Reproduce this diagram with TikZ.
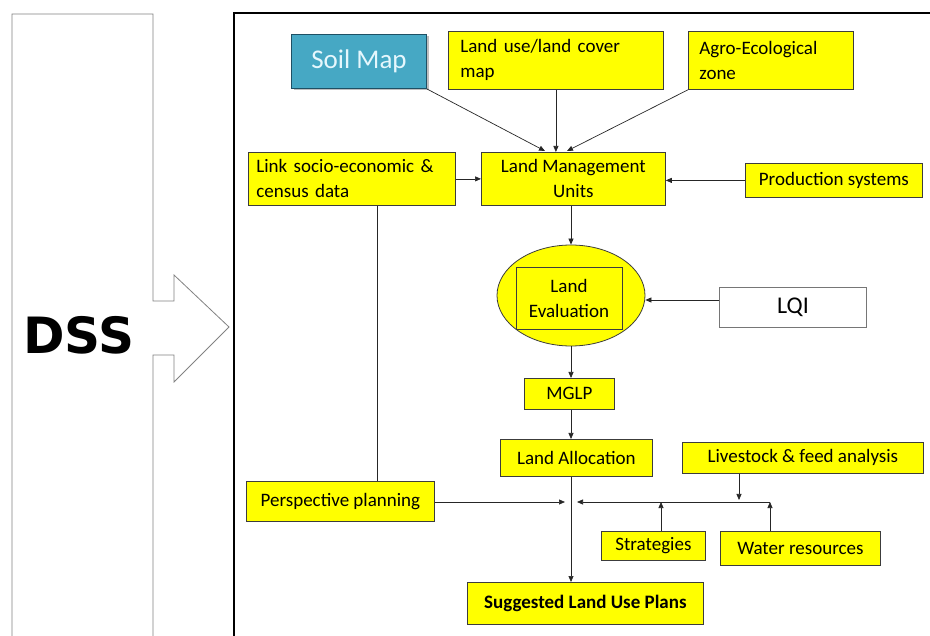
\documentclass[tikz,border=0pt]{standalone}
\usepackage{fontspec}
\setmainfont{Carlito}
\newfontfamily\dssfont{DejaVu Sans}
\usetikzlibrary{arrows.meta,shapes.geometric,shadows,calc}
\definecolor{yel}{RGB}{255,255,0}
\definecolor{boxline}{RGB}{60,60,60}
\definecolor{soilfill}{RGB}{70,168,196}
\definecolor{soiledge}{RGB}{30,80,100}
\definecolor{panelgray}{RGB}{130,130,130}
\newcommand\boxfont{\fontsize{19}{25}\selectfont}
\tikzset{
  ybox/.style={draw=boxline, fill=yel, line width=0.8pt, font=\boxfont, inner sep=0pt, anchor=north west},
  arr/.style={draw=black!85, line width=0.7pt, -{Triangle[length=6pt,width=5pt]}},
  conn/.style={draw=black!85, line width=0.7pt},
}
\begin{document}
\begin{tikzpicture}[x=1pt,y=-1pt]
\useasboundingbox (0,0) rectangle (930,636);
\fill[white] (0,0) rectangle (930,636);
% left DSS panel with arrow
\draw[panelgray, line width=0.8pt, fill=white]
  (12,640) -- (12,14) -- (153,14) -- (153,301) -- (174,301) -- (174,275)
  -- (229,327) -- (174,382) -- (174,355) -- (153,355) -- (153,640);
\node[font=\dssfont\bfseries\fontsize{50}{54}\selectfont, anchor=center] (dss) at (79,335) {DSS};
% main frame
\draw[black, line width=2.4pt] (234,640) -- (234,13) -- (935,13);
% top row
\node[draw=soiledge, fill=soilfill, line width=1pt, minimum width=135, minimum height=54,
      anchor=north west, inner sep=0pt, drop shadow={shadow xshift=2pt, shadow yshift=-2pt, opacity=0.5},
      text=white!90!cyan, font=\fontsize{27}{30}\selectfont] (soil) at (291,34) {Soil Map};
\node[ybox, minimum width=215, minimum height=58, text width=191, align=left] (landuse) at (448,31) {Land use/land cover\\map};
\node[ybox, minimum width=165, minimum height=58, text width=143, align=left] (agro) at (688,31) {Agro-Ecological\\zone};
% second row
\node[ybox, minimum width=207, minimum height=53, text width=191, align=left] (link) at (248,152) {Link socio-economic \&\\census data};
\node[ybox, minimum width=184, minimum height=53, align=center] (lmu) at (481,152) {Land Management\\Units};
\node[ybox, minimum width=177, minimum height=34, align=center] (prod) at (745,163) {Production systems};
% land evaluation
\node[ellipse, draw=boxline, fill=yel, line width=0.8pt, minimum width=148, minimum height=101, inner sep=0pt] (le) at (571,295.5) {};
\node[draw=boxline, line width=0.8pt, minimum width=106, minimum height=62, inner sep=0pt, align=center, font=\boxfont] (leval) at (569,298) {Land\\Evaluation};
\node[draw=boxline!70, fill=white, line width=0.8pt, minimum width=147, minimum height=40, inner sep=0pt, anchor=north west, font=\fontsize{24}{28}\selectfont] (lqi) at (719,287) {LQI};
% lower part
\node[ybox, minimum width=90, minimum height=31, align=center] (mglp) at (524,378) {MGLP};
\node[ybox, minimum width=152, minimum height=37, align=center] (alloc) at (500,439) {Land Allocation};
\node[ybox, minimum width=241, minimum height=31, align=center] (live) at (682,442) {Livestock \& feed analysis};
\node[ybox, minimum width=188, minimum height=40, align=center] (persp) at (246,481) {Perspective planning};
\node[ybox, minimum width=104, minimum height=29, align=center] (strat) at (601,531) {Strategies};
\node[ybox, minimum width=160, minimum height=34, align=center] (water) at (720,531) {Water resources};
\node[ybox, minimum width=236, minimum height=42, align=center, font=\boxfont\bfseries] (plans) at (467,582) {Suggested Land Use Plans};
% junction coordinates
\coordinate (J) at (571,502);
\coordinate (Jl) at (565,502);
\coordinate (Jr) at (577,502);
\coordinate (S) at (661,502);
\coordinate (L) at (739,500);
\coordinate (W) at (770,502);
\coordinate (tsoil) at (545,151);
\coordinate (tagro) at (567,151);
% connectors to LMU
\draw[arr] (soil.south east) -- (tsoil);
\draw[arr] (landuse.south) -- (landuse.south |- lmu.north);
\draw[arr] (agro.south west) -- (tagro);
\draw[arr] (link.east) -- (lmu.west);
\draw[arr] (prod.west) -- (prod.west -| lmu.east);
% main vertical flow
\draw[arr] (lmu.south -| le.center) -- (le.north);
\draw[arr] (lqi.west |- 0,300) -- (le.east |- 0,300);
\draw[arr] (le.south) -- (mglp.north -| le.south);
\draw[arr] (mglp.south -| le.south) -- (alloc.north -| le.south);
\draw[arr] (alloc.south -| le.south) -- (plans.north -| le.south);
% side inputs to junction
\draw[conn] (link.south -| 377,0) -- (persp.north -| 377,0);
\draw[arr] (persp.east |- J) -- (Jl);
\draw[arr] (W) -- (Jr);
\draw[arr] (strat.north -| S) -- (S);
\draw[arr] (water.north -| W) -- (W);
\draw[arr] (live.south -| L) -- (L);
\end{tikzpicture}
\end{document}
